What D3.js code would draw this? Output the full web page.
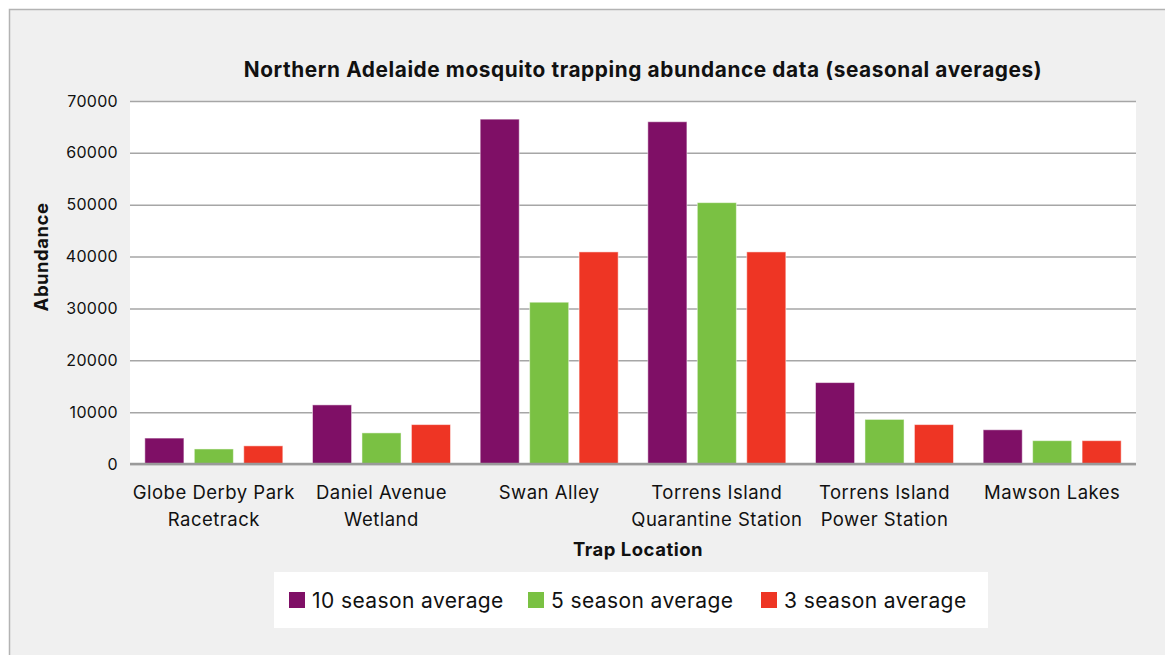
<!DOCTYPE html>
<html>
<head>
<meta charset="utf-8">
<script src="https://cdn.jsdelivr.net/npm/d3@7"></script>
<style>
  body { margin: 0; background: #fff; }
  text { font-family: Inter, "Open Sans", sans-serif; fill: #111; }
</style>
</head>
<body>
<div id="chart"></div>
<script>
// data
const categories = [
  ["Globe Derby Park", "Racetrack"],
  ["Daniel Avenue", "Wetland"],
  ["Swan Alley"],
  ["Torrens Island", "Quarantine Station"],
  ["Torrens Island", "Power Station"],
  ["Mawson Lakes"]
];
const seriesNames = ["10 season average", "5 season average", "3 season average"];
const tenSeason = [5000, 11400, 66500, 66000, 15700, 6600];
const fiveSeason = [2900, 6000, 31200, 50400, 8600, 4500];
const threeSeason = [3500, 7600, 40900, 40900, 7600, 4500];
const yTicks = [0, 10000, 20000, 30000, 40000, 50000, 60000, 70000];
const colors = ["#7f0f66", "#7ac143", "#ee3524"];

const W = 1165, H = 655;
const plot = {left: 130, right: 1136, top: 101, bottom: 464};

const svg = d3.select("#chart").append("svg")
  .attr("width", W).attr("height", H);

// outer frame (only top + left edges show)
svg.append("rect")
  .attr("x", 9.5).attr("y", 9.5)
  .attr("width", W + 20).attr("height", H + 20)
  .attr("fill", "#f0f0f0")
  .attr("stroke", "#b3b3b3").attr("stroke-width", 1.5);

svg.append("rect")
  .attr("x", plot.left).attr("y", plot.top)
  .attr("width", plot.right - plot.left).attr("height", plot.bottom - plot.top)
  .attr("fill", "#fff");

const series = [tenSeason, fiveSeason, threeSeason];
const rows = categories.map((c, i) => ({cat: i, values: series.map(s => s[i])}));

const x0 = d3.scaleBand()
  .domain(d3.range(categories.length))
  .range([plot.left, plot.right])
  .padding(0);

const x1 = d3.scaleBand()
  .domain(d3.range(seriesNames.length))
  .range([0, x0.bandwidth()])
  .paddingInner(0.21)
  .paddingOuter(0.3);

const y = d3.scaleLinear()
  .domain([0, 70000])
  .range([plot.bottom, plot.top]);

// gridlines + tick labels
const yAxis = svg.append("g")
  .attr("transform", "translate(" + plot.left + ",0)")
  .call(d3.axisLeft(y).tickValues(yTicks).tickSize(-(plot.right - plot.left)).tickPadding(12).tickFormat(d3.format("d")));
yAxis.select(".domain").remove();
yAxis.selectAll(".tick line")
  .attr("stroke", "#a6a6a6").attr("stroke-width", 1.5);
yAxis.selectAll(".tick text")
  .style("font-size", "16px").style("letter-spacing", "0.3px").attr("fill", "#111");

// bars
const groups = svg.append("g").selectAll("g")
  .data(rows)
  .enter().append("g")
    .attr("transform", d => "translate(" + x0(d.cat) + ",0)");

groups.selectAll("rect")
  .data(d => d.values.map((v, k) => ({k: k, v: v})))
  .enter().append("rect")
    .attr("x", d => x1(d.k))
    .attr("y", d => y(d.v))
    .attr("width", x1.bandwidth())
    .attr("height", d => y(0) - y(d.v))
    .attr("fill", d => colors[d.k])
    .attr("stroke", "#fff").attr("stroke-opacity", 0.5).attr("stroke-width", 1);

// baseline
svg.append("line")
  .attr("x1", plot.left).attr("x2", plot.right)
  .attr("y1", y(0)).attr("y2", y(0))
  .attr("stroke", "#9a9a9a").attr("stroke-width", 2.5);

// category labels
const catLabels = svg.append("g").selectAll("text")
  .data(categories)
  .enter().append("text")
    .attr("x", (d, i) => x0(i) + x0.bandwidth() / 2)
    .attr("y", 499)
    .attr("text-anchor", "middle")
    .style("font-size", "18.5px")
    .style("letter-spacing", "0.5px");
catLabels.selectAll("tspan")
  .data(d => d)
  .enter().append("tspan")
    .attr("x", function() { return this.parentNode.getAttribute("x"); })
    .attr("dy", (d, i) => i ? 27 : 0)
    .text(d => d);

// titles
svg.append("text")
  .attr("x", 643).attr("y", 77)
  .attr("text-anchor", "middle")
  .style("font-size", "20.8px").style("font-weight", "bold")
  .style("letter-spacing", "0.6px")
  .text("Northern Adelaide mosquito trapping abundance data (seasonal averages)");

svg.append("text")
  .attr("transform", "translate(48,257) rotate(-90)")
  .attr("text-anchor", "middle")
  .style("font-size", "18.5px").style("font-weight", "bold")
  .style("letter-spacing", "0.5px")
  .text("Abundance");

svg.append("text")
  .attr("x", 638).attr("y", 556)
  .attr("text-anchor", "middle")
  .style("font-size", "18.5px").style("font-weight", "bold")
  .style("letter-spacing", "0.5px")
  .text("Trap Location");

// legend
svg.append("rect")
  .attr("x", 274).attr("y", 572)
  .attr("width", 714).attr("height", 56)
  .attr("fill", "#fff");

const legendX = [289, 528, 761];
const legend = svg.append("g").selectAll("g")
  .data(seriesNames)
  .enter().append("g")
    .attr("transform", (d, i) => "translate(" + legendX[i] + ",592)");
legend.append("rect")
  .attr("width", 16).attr("height", 16)
  .attr("fill", (d, i) => colors[i]);
legend.append("text")
  .attr("x", 23).attr("y", 16)
  .style("font-size", "21px")
  .style("letter-spacing", "0.4px")
  .text(d => d);
</script>
</body>
</html>
